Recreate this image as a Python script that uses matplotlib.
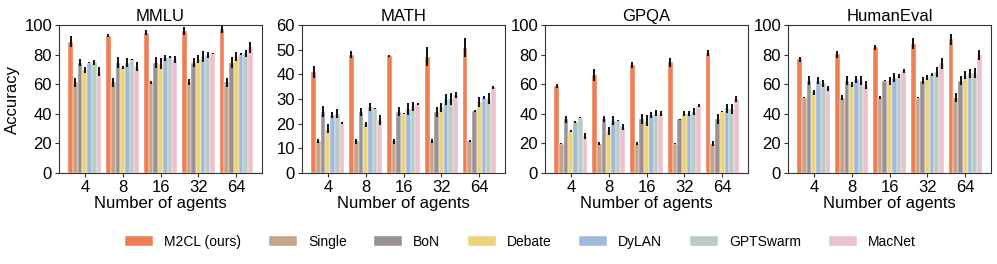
import numpy as np
import matplotlib
matplotlib.use("Agg")
import matplotlib.pyplot as plt

plt.rcParams['font.family'] = ['Liberation Sans', 'DejaVu Sans']

methods = ['M2CL (ours)', 'Single', 'BoN', 'Debate', 'DyLAN', 'GPTSwarm', 'MacNet']
colors = ['#EE7F55', '#C4A48A', '#9A9198', '#ECD47C', '#A1B9DA', '#B9CBC4', '#EBC1CE']
agents = ['4', '8', '16', '32', '64']
datasets = ['MMLU', 'MATH', 'GPQA', 'HumanEval']

# rows = methods, columns = number of agents
mmlu = [[88.7, 92.8, 94.8, 96.2, 97.5],
        [61.3, 61.3, 61.3, 61.3, 61.3],
        [74.5, 74.5, 74.5, 74.5, 74.5],
        [69.6, 71.4, 73.9, 77.0, 78.6],
        [74.5, 74.5, 77.7, 78.6, 80.4],
        [74.8, 76.8, 78.2, 80.0, 80.9],
        [68.5, 71.8, 76.8, 80.9, 84.9]]
mmlu_err = [[3.6, 1.1, 1.8, 2.7, 2.7],
            [3.0, 3.0, 1.0, 2.0, 3.0],
            [2.5, 3.7, 3.7, 3.0, 3.7],
            [2.2, 1.0, 3.5, 3.0, 3.0],
            [0.5, 3.0, 2.2, 3.5, 0.5],
            [1.8, 0.5, 0.8, 2.0, 2.5],
            [3.0, 3.0, 2.5, 0.5, 3.5]]

math = [[40.9, 48.0, 47.4, 47.2, 50.8],
        [12.9, 12.9, 12.9, 12.9, 12.9],
        [24.8, 24.8, 24.8, 24.8, 25.0],
        [17.9, 19.8, 24.1, 26.6, 28.9],
        [23.4, 26.8, 25.9, 29.8, 30.6],
        [24.1, 26.2, 27.1, 29.9, 30.2],
        [20.3, 21.4, 27.9, 31.6, 34.7]]
math_err = [[2.3, 1.5, 0.3, 4.0, 3.9],
            [0.7, 1.0, 1.0, 0.7, 0.3],
            [2.2, 1.5, 1.8, 2.0, 0.4],
            [1.8, 1.0, 0.3, 1.8, 2.0],
            [1.3, 1.5, 2.5, 2.3, 0.8],
            [2.0, 0.3, 1.8, 2.4, 2.1],
            [0.3, 2.0, 0.3, 1.3, 0.7]]

gpqa = [[58.7, 66.1, 72.9, 74.9, 80.8],
        [19.9, 19.9, 19.9, 19.9, 19.9],
        [36.3, 36.3, 36.3, 36.3, 36.3],
        [28.4, 28.4, 35.4, 40.2, 41.5],
        [34.3, 35.2, 39.0, 40.2, 43.6],
        [37.5, 35.2, 40.6, 41.3, 43.1],
        [25.0, 30.9, 40.2, 45.6, 49.9]]
gpqa_err = [[1.5, 4.0, 2.0, 3.0, 2.0],
            [0.2, 1.3, 1.3, 0.5, 1.5],
            [2.5, 2.0, 3.5, 0.5, 3.5],
            [0.5, 2.5, 3.5, 2.0, 0.3],
            [0.5, 3.0, 2.0, 1.5, 3.0],
            [0.5, 0.3, 2.0, 2.3, 3.5],
            [2.0, 2.0, 2.0, 0.7, 2.0]]

humaneval = [[76.7, 80.1, 84.9, 87.4, 90.3],
             [51.0, 51.0, 51.0, 51.0, 51.0],
             [62.5, 62.5, 62.5, 62.5, 62.5],
             [54.4, 59.8, 62.1, 64.6, 66.1],
             [62.5, 63.2, 64.3, 66.6, 67.3],
             [60.5, 62.5, 65.5, 68.4, 67.7],
             [57.1, 59.4, 69.1, 74.0, 79.7]]
humaneval_err = [[2.0, 2.5, 1.5, 3.5, 3.5],
                 [0.3, 1.5, 1.0, 0.5, 3.0],
                 [3.0, 3.0, 0.5, 2.5, 3.0],
                 [2.0, 2.0, 2.5, 1.5, 2.5],
                 [2.5, 2.5, 3.0, 1.0, 3.0],
                 [2.5, 3.0, 1.5, 3.5, 3.5],
                 [1.5, 2.5, 1.5, 3.5, 3.5]]

all_vals = [mmlu, math, gpqa, humaneval]
all_errs = [mmlu_err, math_err, gpqa_err, humaneval_err]
ymax = [100, 60, 100, 100]
ystep = [20, 10, 20, 20]

fig = plt.figure(figsize=(9.97, 2.64), dpi=100)
lefts = [59, 302, 545, 788]
x = np.arange(len(agents))
bw = 0.125
handles = []

for k, name in enumerate(datasets):
    ax = fig.add_axes([lefts[k] / 997, 91 / 264, 203 / 997, 148 / 264])
    for i, m in enumerate(methods):
        offs = (i - 3) * bw
        bars = ax.bar(x + offs, all_vals[k][i], width=bw, color=colors[i],
                      edgecolor='white', linewidth=0.3, label=m)
        ax.errorbar(x + offs, all_vals[k][i], yerr=all_errs[k][i], fmt='none',
                    ecolor='#111111', elinewidth=1.4, capsize=0)
        if k == 0:
            handles.append(bars)
    ax.set_xlim(-0.68, 4.68)
    ax.set_ylim(0, ymax[k])
    ax.set_yticks(np.arange(0, ymax[k] + 1, ystep[k]))
    ax.set_xticks(x)
    ax.set_xticklabels(agents)
    ax.tick_params(labelsize=12, length=3, pad=2, color='#333333')
    ax.set_title(name, fontsize=12, pad=3)
    ax.set_xlabel('Number of agents', fontsize=12, labelpad=1)
    for s in ax.spines.values():
        s.set_color('#333333')
    if k == 0:
        ax.set_ylabel('Accuracy', fontsize=12, labelpad=3)

fig.legend(handles, methods, loc='center', bbox_to_anchor=(0.522, 0.083), ncol=7,
           frameon=False, fontsize=10, handlelength=2.0, handletextpad=0.8,
           columnspacing=2.0)

fig.savefig('out.png', dpi=100)
